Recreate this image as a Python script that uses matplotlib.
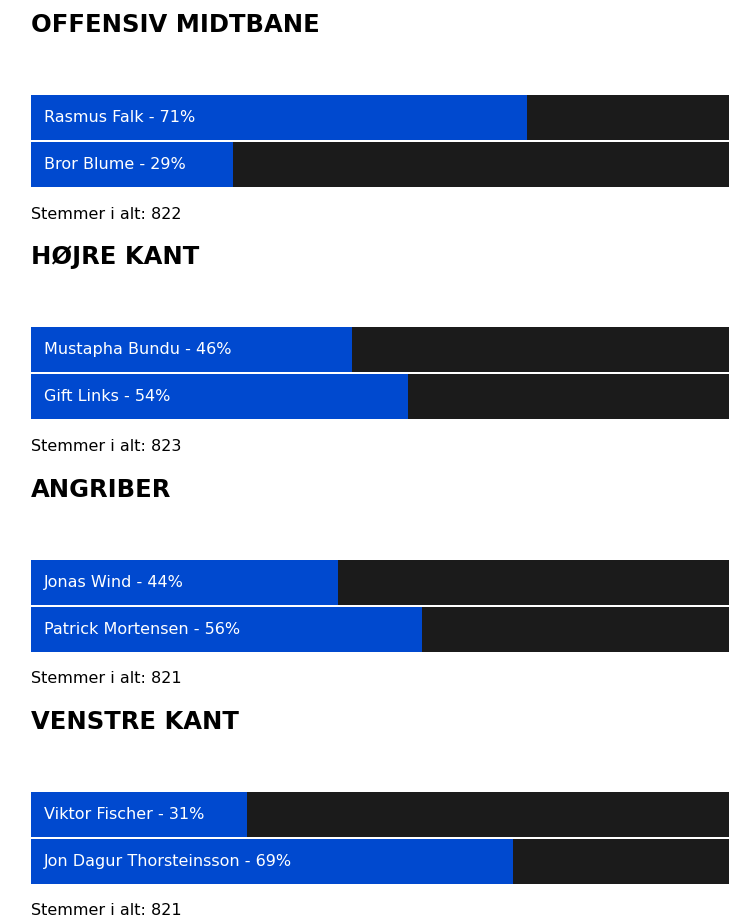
import matplotlib.pyplot as plt

sections = ["OFFENSIV MIDTBANE", "HØJRE KANT", "ANGRIBER", "VENSTRE KANT"]
players = [
    ["Rasmus Falk", "Bror Blume"],
    ["Mustapha Bundu", "Gift Links"],
    ["Jonas Wind", "Patrick Mortensen"],
    ["Viktor Fischer", "Jon Dagur Thorsteinsson"],
]
shares = [[71, 29], [46, 54], [44, 56], [31, 69]]
totals = [822, 823, 821, 821]

W, H = 745, 922
X0, BAR_W = 31, 698
BLUE, DARK = "#0049CF", "#1b1b1b"

fig = plt.figure(figsize=(W / 100, H / 100), dpi=100)
ax = fig.add_axes([0, 0, 1, 1])
ax.set_xlim(0, W)
ax.set_ylim(H, 0)
ax.axis("off")

for i, title in enumerate(sections):
    top = i * 232.3
    ax.text(X0, top + 25, title, fontsize=17.5, fontweight="bold",
            va="center", ha="left", color="black")
    for j, (name, pct) in enumerate(zip(players[i], shares[i])):
        yc = top + 117.5 + j * 47
        ax.barh(yc, BAR_W, left=X0, height=45, color=DARK)
        ax.barh(yc, pct / 100 * BAR_W, left=X0, height=45, color=BLUE)
        ax.text(X0 + 13, yc, f"{name} - {pct}%", fontsize=11.5,
                color="white", va="center", ha="left")
    ax.text(X0, top + 214, f"Stemmer i alt: {totals[i]}", fontsize=11.5,
            va="center", ha="left", color="black")

fig.savefig("out.png", dpi=100)
